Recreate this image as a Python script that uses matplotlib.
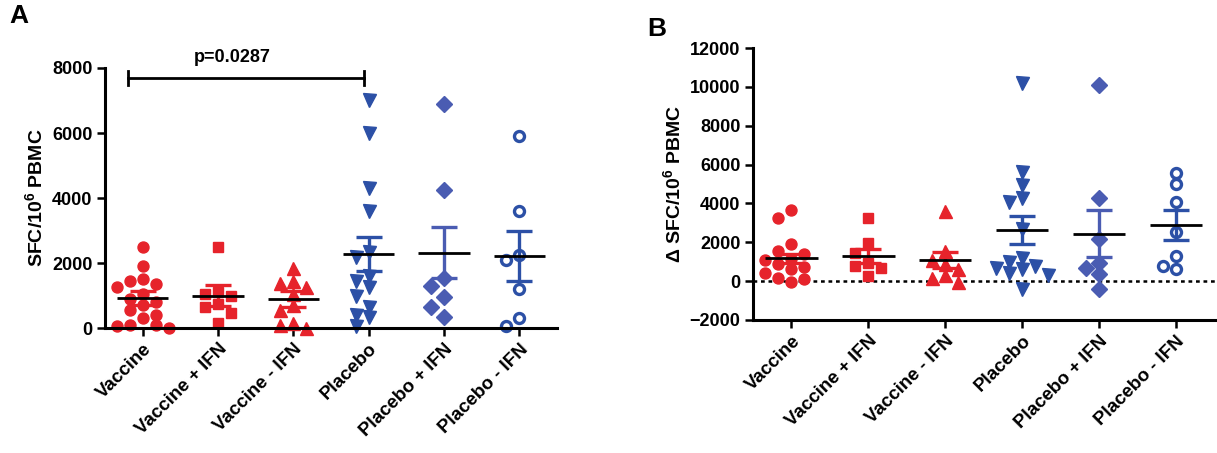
import numpy as np
import matplotlib
matplotlib.use('Agg')
import matplotlib.pyplot as plt

plt.rcParams['font.family'] = ['Liberation Sans', 'DejaVu Sans']
plt.rcParams['font.weight'] = 'bold'
plt.rcParams['axes.labelweight'] = 'bold'
plt.rcParams['mathtext.fontset'] = 'custom'
plt.rcParams['mathtext.rm'] = 'Liberation Sans:bold'
plt.rcParams['mathtext.bf'] = 'Liberation Sans:bold'
plt.rcParams['mathtext.default'] = 'bf'

groups = ['Vaccine', 'Vaccine + IFN', 'Vaccine - IFN', 'Placebo', 'Placebo + IFN', 'Placebo - IFN']

# Panel A: SFC/10^6 PBMC
a_vaccine = [2500, 1900, 1500, 1450, 1350, 1250, 1050, 900, 800, 700, 550, 400, 300, 100, 80, 50, 0]
a_vaccine_ifn_pos = [2500, 1100, 1050, 1000, 750, 650, 450, 150]
a_vaccine_ifn_neg = [1850, 1450, 1400, 1250, 1050, 700, 550, 150, 100, 0]
a_placebo = [7000, 6000, 4300, 3600, 2350, 2200, 1600, 1450, 1270, 1000, 650, 400, 330, 50]
a_placebo_ifn_pos = [6900, 4250, 1550, 1300, 950, 650, 350]
a_placebo_ifn_neg = [5900, 3600, 2250, 2100, 1200, 300, 50]
a_mean = [920, 1000, 890, 2270, 2320, 2215]
a_sem = [210, 330, 250, 530, 780, 760]

# Panel B: delta SFC/10^6 PBMC
b_vaccine = [3650, 3250, 1900, 1550, 1400, 1150, 1100, 900, 750, 600, 400, 150, 100, -50]
b_vaccine_ifn_pos = [3250, 1950, 1450, 950, 800, 700, 250]
b_vaccine_ifn_neg = [3600, 1550, 1100, 900, 650, 300, 150, -50]
b_placebo = [10200, 5600, 4950, 4300, 4050, 2700, 1200, 1000, 800, 700, 650, 400, 300, -400]
b_placebo_ifn_pos = [10100, 4300, 2150, 950, 700, 350, -400]
b_placebo_ifn_neg = [5550, 5000, 4050, 2550, 1300, 800, 650]
b_mean = [1170, 1300, 1100, 2640, 2450, 2880]
b_sem = [250, 380, 400, 730, 1230, 780]

data_a = [a_vaccine, a_vaccine_ifn_pos, a_vaccine_ifn_neg, a_placebo, a_placebo_ifn_pos, a_placebo_ifn_neg]
data_b = [b_vaccine, b_vaccine_ifn_pos, b_vaccine_ifn_neg, b_placebo, b_placebo_ifn_pos, b_placebo_ifn_neg]

red = '#E6232B'
blue = '#2C50A6'
blue2 = '#4A5CB2'
markers = ['o', 's', '^', 'v', 'D', 'o']
colors = [red, red, red, blue, blue2, blue]
sizes = [11, 10.5, 13, 13, 12, 10]  # pixels
filled = [True, True, True, True, True, False]


def swarm_offsets(ax, x0, vals, step=13.0, gap=10.0):
    # simple beeswarm in pixel space
    pix = ax.transData.transform(np.column_stack([np.full(len(vals), x0), vals]))
    ppu = ax.transData.transform((1, 0))[0] - ax.transData.transform((0, 0))[0]
    placed = []
    out = []
    for y in pix[:, 1]:
        best, best_d = 0.0, -1
        for k in [0, -1, 1, -2, 2]:
            dx = k * step
            d = min([np.hypot(dx - px, y - py) for px, py in placed] + [1e9])
            if d >= gap:
                best = dx
                break
            if d > best_d:
                best, best_d = dx, d
        placed.append((best, y))
        out.append(x0 + best / ppu)
    return out


def draw_panel(ax, data, means, sems):
    for i, vals in enumerate(data):
        xs = swarm_offsets(ax, i, vals)
        ms = sizes[i] * 0.72
        if filled[i]:
            ax.plot(xs, vals, ls='none', marker=markers[i], ms=ms,
                    mfc=colors[i], mec=colors[i], zorder=2, clip_on=False)
        else:
            ax.plot(xs, vals, ls='none', marker=markers[i], ms=ms,
                    mfc='white', mec=colors[i], mew=2.4, zorder=2, clip_on=False)
        ax.errorbar(i, means[i], yerr=sems[i], color=colors[i], lw=2.4,
                    capsize=9.5, capthick=2.4, zorder=3)
        ax.hlines(means[i], i - 0.34, i + 0.34, color='black', lw=2.0, zorder=4)


def style_axes(ax):
    for s in ['top', 'right']:
        ax.spines[s].set_visible(False)
    for s in ['left', 'bottom']:
        ax.spines[s].set_linewidth(2.2)
    ax.tick_params(width=1.8, length=5.5, labelsize=13)
    ax.set_xlim(-0.5, 5.5)
    ax.set_xticks(range(len(groups)))
    ax.set_xticklabels(groups, rotation=45, ha='right', rotation_mode='anchor', fontsize=13.5)


fig = plt.figure(figsize=(12.17, 4.53), dpi=100)

# Panel A
axA = fig.add_axes([0.0863, 0.2759, 0.3714, 0.574])
style_axes(axA)
axA.set_ylim(0, 8000)
axA.set_yticks([0, 2000, 4000, 6000, 8000])
axA.set_ylabel('SFC/10$^6$ PBMC', fontsize=14, labelpad=4)
draw_panel(axA, data_a, a_mean, a_sem)

# significance bracket
br_y = 7700
axA.plot([-0.2, 2.94], [br_y, br_y], color='black', lw=2.0, clip_on=False)
axA.plot([-0.2, -0.2], [br_y - 220, br_y + 220], color='black', lw=2.0, clip_on=False)
axA.plot([2.94, 2.94], [br_y - 220, br_y + 220], color='black', lw=2.0, clip_on=False)
axA.text(1.19, 8330, 'p=0.0287', ha='center', va='center', fontsize=13, fontweight='bold')
fig.text(0.008, 0.965, 'A', fontsize=19, fontweight='bold', va='center')

# Panel B
axB = fig.add_axes([0.6187, 0.2936, 0.3793, 0.6004])
style_axes(axB)
axB.set_ylim(-2000, 12000)
axB.set_yticks(range(-2000, 12001, 2000))
axB.set_ylabel('Δ SFC/10$^6$ PBMC', fontsize=14, labelpad=4)
axB.axhline(0, color='black', lw=1.8, ls=(0, (1.5, 1.5)), zorder=1)
draw_panel(axB, data_b, b_mean, b_sem)
fig.text(0.532, 0.935, 'B', fontsize=19, fontweight='bold', va='center')

fig.savefig('out.png', dpi=100)
